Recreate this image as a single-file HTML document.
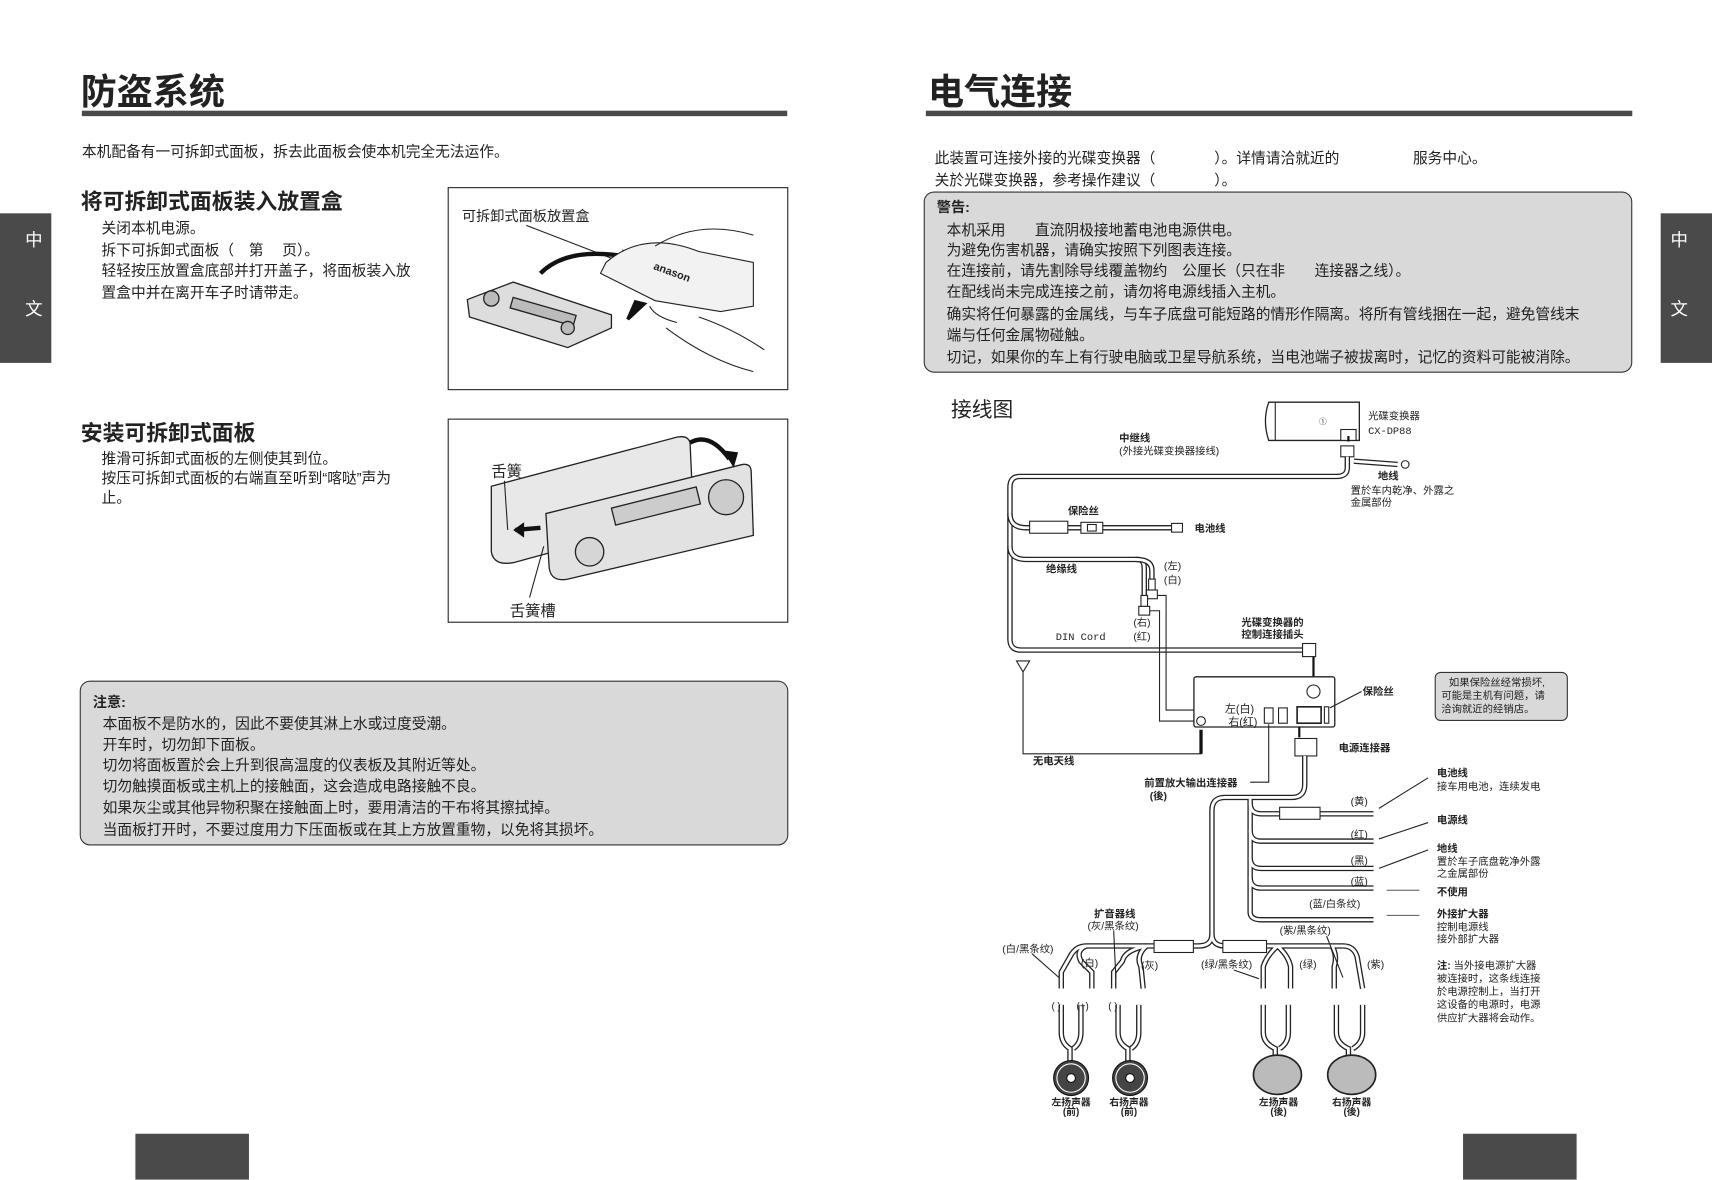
<!DOCTYPE html>
<html><head><meta charset="utf-8"><style>
html,body{margin:0;padding:0;background:#fff}
svg{display:block}
text{font-family:"Liberation Sans","Noto Sans CJK SC",sans-serif;fill:#222}
.b{font-weight:bold}
.w1{fill:none;stroke:#222;stroke-width:5}
.w2{fill:none;stroke:#fff;stroke-width:2.6}
.t{fill:none;stroke:#222;stroke-width:1}
</style></head><body>
<svg width="1712" height="1180" viewBox="0 0 1568 1080" xmlns="http://www.w3.org/2000/svg">
<defs>
<path id="c1" d="M1234 418 L1234 428 Q1234 436 1224 436 L934 436 Q925 436 925 446 L925 585 Q925 595 935 595 L1195 595"/>
<path id="c2" d="M925 470 Q925 483 940 483 L1075 483"/>
<path id="c3" d="M925 500 Q925 512 940 512 L1042 512 Q1048 512 1048 520 L1048 545"/>
<path id="c4" d="M1040 512 Q1055 512 1055 522 L1055 530"/>
<path id="h1" d="M1195 692 L1195 718 Q1195 730 1183 730 L1122 730 Q1110 730 1110 742 L1110 855 Q1110 866 1098 866 L995 866 Q985 866 980 876 L972 890 L972 905"/>
<path id="h2" d="M1110 855 Q1110 866 1122 866 L1230 866 Q1240 866 1243 876 L1248 905"/>
<path id="h3" d="M1145 730 L1145 835 Q1145 842 1155 842 L1258 842"/>
<path id="h4" d="M1145 735 Q1145 745 1155 745 L1258 745"/>
<path id="h5" d="M1145 760 Q1145 770 1155 770 L1258 770"/>
<path id="h6" d="M1145 785 Q1145 795 1155 795 L1258 795"/>
<path id="h7" d="M1145 803 Q1145 813 1155 813 L1258 813"/>
<path id="s1" d="M995 866 Q985 870 990 880 L1000 890 L1000 905"/>
<path id="s2" d="M1050 866 Q1030 870 1028 880 L1020 890 L1020 905 M1050 866 Q1040 875 1045 885 L1047 905"/>
<path id="s3" d="M1170 866 Q1160 875 1157 885 L1157 905 M1170 866 Q1180 875 1182 885 L1182 905"/>
<path id="s4" d="M1220 866 Q1225 875 1222 885 L1222 905"/>
<path id="sp1" d="M972 920 L972 945 Q972 955 980 960 L980 972 M990 920 L990 945 Q990 955 983 960"/>
<path id="sp2" d="M1024 920 L1024 945 Q1024 955 1033 960 L1033 972 M1043 920 L1043 945 Q1043 955 1036 960"/>
<path id="sp3" d="M1157 920 L1157 945 Q1157 955 1168 960 L1168 968 M1180 920 L1180 945 Q1180 955 1172 960"/>
<path id="sp4" d="M1224 920 L1224 945 Q1224 955 1235 960 L1235 968 M1248 920 L1248 945 Q1248 955 1239 960"/>
</defs>
<!-- LEFT PAGE -->
<text x="74" y="95" font-size="33" class="b" fill="#111">防盗系统</text>
<rect x="75" y="101" width="646" height="5" fill="#4a4a4a"/>
<text x="75" y="143" font-size="13.5">本机配备有一可拆卸式面板，拆去此面板会使本机完全无法运作。</text>
<rect x="0" y="195" width="47" height="137" fill="#4a4a4a"/>
<text x="31" y="225" font-size="16" style="fill:#fff" text-anchor="middle">中</text>
<text x="31" y="288" font-size="16" style="fill:#fff" text-anchor="middle">文</text>
<rect x="1521" y="195" width="47" height="137" fill="#4a4a4a"/>
<text x="1538" y="225" font-size="16" style="fill:#fff" text-anchor="middle">中</text>
<text x="1538" y="288" font-size="16" style="fill:#fff" text-anchor="middle">文</text>

<text x="74" y="191" font-size="20" class="b">将可拆卸式面板装入放置盒</text>
<text x="93" y="213" font-size="13.5">关闭本机电源。</text>
<text x="93" y="233" font-size="13.5">拆下可拆卸式面板（　第　 页）。</text>
<text x="93" y="252" font-size="13.5">轻轻按压放置盒底部并打开盖子，将面板装入放</text>
<text x="93" y="272" font-size="13.5">置盒中并在离开车子时请带走。</text>
<rect x="410.5" y="171.5" width="311" height="185" fill="none" stroke="#222"/>
<text x="423" y="202" font-size="13">可拆卸式面板放置盒</text>
<line x1="482" y1="206" x2="570" y2="240" class="t"/>
<g stroke="#222" fill="#ddd" stroke-width="1.2">
<path d="M428 274 L470 258 L560 288 L560 300 L520 318 L430 290 Z"/>
<rect x="470" y="272" width="60" height="10" fill="#bbb" transform="rotate(16 470 272)"/>
<circle cx="450" cy="273" r="7" fill="#bbb"/>
<circle cx="520" cy="300" r="6" fill="#bbb"/>
</g>
<path d="M495 250 Q520 225 575 235" fill="none" stroke="#111" stroke-width="4"/>
<path d="M570 228 L585 236 L570 244 Z" fill="#111"/>
<path d="M575 292 L590 278 L582 276 Z" fill="#111" stroke="#111" stroke-width="3"/>
<path d="M555 240 Q590 210 640 230 L690 240 L690 280 L660 285 L600 275 L550 250 Z" fill="#f2f2f2" stroke="#222"/>
<text x="598" y="246" font-size="10" class="b" transform="rotate(20 598 246)">anason</text>
<path d="M600 225 Q640 200 690 215 M610 300 Q650 330 690 340 M640 290 Q670 300 700 320" fill="none" stroke="#222"/>
<path d="M595 280 Q600 290 620 295" fill="none" stroke="#222"/>

<text x="74" y="403" font-size="20" class="b">安装可拆卸式面板</text>
<text x="93" y="424" font-size="13.5">推滑可拆卸式面板的左侧使其到位。</text>
<text x="93" y="442" font-size="13.5">按压可拆卸式面板的右端直至听到“喀哒”声为</text>
<text x="93" y="460" font-size="13.5">止。</text>
<rect x="410.5" y="383.5" width="311" height="186" fill="none" stroke="#222"/>
<text x="450" y="436" font-size="14">舌簧</text>
<text x="467" y="564" font-size="14">舌簧槽</text>
<g stroke="#222" stroke-width="1.2">
<path d="M450 445 L620 400 Q630 398 632 405 L635 470 L470 515 Q452 518 450 505 Z" fill="#e8e8e8"/>
<path d="M500 470 L680 425 Q688 424 688 432 L690 490 L520 530 Q505 533 503 520 Z" fill="#e2e2e2"/>
<rect x="560" y="465" width="80" height="16" fill="#ccc" transform="rotate(-14 560 465)"/>
<circle cx="665" cy="455" r="16" fill="#ccc"/>
<circle cx="540" cy="505" r="13" fill="#d6d6d6"/>
</g>
<path d="M632 405 Q650 395 668 420" fill="none" stroke="#111" stroke-width="4"/>
<path d="M662 412 L672 428 L676 414 Z" fill="#111"/>
<path d="M495 483 L472 485" stroke="#111" stroke-width="4"/>
<path d="M470 485 L480 478 L480 492 Z" fill="#111"/>
<line x1="462" y1="440" x2="465" y2="485" class="t"/>
<line x1="485" y1="547" x2="498" y2="500" class="t"/>

<rect x="73.5" y="623.5" width="648" height="150" rx="9" fill="#d9d9d9" stroke="#333"/>
<text x="85" y="647" font-size="13" class="b">注意:</text>
<text x="94" y="667" font-size="13.5">本面板不是防水的，因此不要使其淋上水或过度受潮。</text>
<text x="94" y="686" font-size="13.5">开车时，切勿卸下面板。</text>
<text x="94" y="705" font-size="13.5">切勿将面板置於会上升到很高温度的仪表板及其附近等处。</text>
<text x="94" y="724" font-size="13.5">切勿触摸面板或主机上的接触面，这会造成电路接触不良。</text>
<text x="94" y="744" font-size="13.5">如果灰尘或其他异物积聚在接触面上时，要用清洁的干布将其擦拭掉。</text>
<text x="94" y="764" font-size="13.5">当面板打开时，不要过度用力下压面板或在其上方放置重物，以免将其损坏。</text>
<rect x="124" y="1038" width="104" height="42" fill="#4a4a4a"/>
<rect x="1340" y="1038" width="104" height="42" fill="#4a4a4a"/>

<!-- RIGHT PAGE -->
<text x="850" y="95" font-size="33" class="b" fill="#111">电气连接</text>
<rect x="848" y="101" width="647" height="5" fill="#4a4a4a"/>
<text x="856" y="149" font-size="13.5">此装置可连接外接的光碟变换器（　　　　）。详情请洽就近的　　　　　服务中心。</text>
<text x="856" y="169" font-size="13.5">关於光碟变换器，参考操作建议（　　　　）。</text>
<rect x="846.5" y="175.5" width="648" height="165" rx="9" fill="#d9d9d9" stroke="#333"/>
<text x="858" y="194" font-size="13" class="b">警告:</text>
<text x="867" y="215" font-size="13.5">本机采用　　直流阴极接地蓄电池电源供电。</text>
<text x="867" y="233" font-size="13.5">为避免伤害机器，请确实按照下列图表连接。</text>
<text x="867" y="252" font-size="13.5">在连接前，请先割除导线覆盖物约　公厘长（只在非　　连接器之线）。</text>
<text x="867" y="271" font-size="13.5">在配线尚未完成连接之前，请勿将电源线插入主机。</text>
<text x="867" y="292" font-size="13.5">确实将任何暴露的金属线，与车子底盘可能短路的情形作隔离。将所有管线捆在一起，避免管线末</text>
<text x="867" y="311" font-size="13.5">端与任何金属物碰触。</text>
<text x="867" y="331" font-size="13.5">切记，如果你的车上有行驶电脑或卫星导航系统，当电池端子被拔离时，记忆的资料可能被消除。</text>

<text x="871" y="381" font-size="19">接线图</text>

<path d="M1162 368 L1245 368 L1245 403 L1162 403 Q1156 385 1162 368 Z" fill="#fff" stroke="#222" stroke-width="1.2"/>
<line x1="1168" y1="368" x2="1168" y2="403" class="t"/>
<text x="1208" y="388" font-size="7">①</text>
<rect x="1228" y="393" width="14" height="10" fill="#fff" stroke="#222"/>
<path d="M1235 404 L1235 399" stroke="#111" stroke-width="2"/>
<text x="1253" y="384" font-size="9.5">光碟变换器</text>
<text x="1253" y="397" font-size="9.5" style="font-family:'Liberation Mono',monospace">CX-DP88</text>
<rect x="1228" y="408" width="12" height="10" fill="#fff" stroke="#222"/>
<text x="1025" y="404" font-size="9.5" class="b">中继线</text>
<text x="1025" y="416" font-size="9.5">(外接光碟变换器接线)</text>
<path d="M1240 422 L1280 425" class="w1"/><path d="M1240 422 L1280 425" class="w2"/>
<circle cx="1287" cy="425" r="3.5" fill="#fff" stroke="#222"/>
<text x="1262" y="439" font-size="9.5" class="b">地线</text>
<text x="1237" y="452" font-size="9.5">置於车内乾净、外露之</text>
<text x="1237" y="463" font-size="9.5">金属部份</text>

<use href="#c1" class="w1"/><use href="#c1" class="w2"/>
<use href="#c2" class="w1"/><use href="#c2" class="w2"/>
<use href="#c3" class="w1"/><use href="#c3" class="w2"/>
<use href="#c4" class="w1"/><use href="#c4" class="w2"/>
<rect x="943" y="477" width="35" height="11" fill="#fff" stroke="#222"/>
<rect x="990" y="478" width="20" height="10" fill="#fff" stroke="#222"/>
<rect x="996" y="480" width="8" height="6" fill="#fff" stroke="#222"/>
<rect x="1073" y="479" width="10" height="8" fill="#fff" stroke="#222"/>
<text x="978" y="471" font-size="9.5" class="b">保险丝</text>
<text x="1094" y="487" font-size="9.5" class="b">电池线</text>
<text x="958" y="524" font-size="9.5" class="b">绝缘线</text>
<rect x="1052" y="530" width="6" height="10" fill="#fff" stroke="#222"/>
<rect x="1050" y="540" width="10" height="8" fill="#fff" stroke="#222"/>
<rect x="1045" y="545" width="6" height="10" fill="#fff" stroke="#222"/>
<rect x="1043" y="555" width="10" height="8" fill="#fff" stroke="#222"/>
<text x="1066" y="521" font-size="9.5">(左)</text>
<text x="1066" y="534" font-size="9.5">(白)</text>
<text x="1038" y="573" font-size="9.5">(右)</text>
<text x="1038" y="586" font-size="9.5">(红)</text>
<text x="967" y="586" font-size="9.5" style="font-family:'Liberation Mono',monospace">DIN Cord</text>
<path d="M1060 545 L1068 545 L1068 650 L1120 650 M1053 559 L1062 559 L1062 660 L1122 660" class="t"/>
<text x="1137" y="573" font-size="9.5" class="b">光碟变换器的</text>
<text x="1137" y="584" font-size="9.5" class="b">控制连接插头</text>
<rect x="1193" y="589" width="12" height="12" fill="#fff" stroke="#222"/>
<line x1="1203" y1="601" x2="1203" y2="622" stroke="#111" stroke-width="2"/>
<path d="M1199 620 L1207 620 L1203 628 Z" fill="#111"/>

<rect x="1093.5" y="619.5" width="129" height="46" rx="2" fill="#fff" stroke="#222" stroke-width="1.2"/>
<circle cx="1203" cy="633" r="6" fill="#fff" stroke="#222"/>
<text x="1122" y="652" font-size="10">左(白)</text>
<text x="1125" y="664" font-size="10">右(红)</text>
<rect x="1158" y="648" width="8" height="14" fill="#fff" stroke="#222"/>
<rect x="1171" y="648" width="8" height="14" fill="#fff" stroke="#222"/>
<rect x="1188" y="647" width="22" height="15" fill="#fff" stroke="#222" stroke-width="1.5"/>
<rect x="1213" y="647" width="4" height="15" fill="#fff" stroke="#222"/>
<circle cx="1100" cy="660" r="4" fill="#fff" stroke="#222"/>
<line x1="1218" y1="648" x2="1247" y2="633" class="t"/>
<text x="1248" y="636" font-size="9.5" class="b">保险丝</text>
<rect x="1314.5" y="615.5" width="121" height="44" rx="5" fill="#d9d9d9" stroke="#333"/>
<text x="1327" y="628" font-size="9.5">如果保险丝经常损坏,</text>
<text x="1320" y="640" font-size="9.5">可能是主机有问题，请</text>
<text x="1320" y="652" font-size="9.5">洽询就近的经销店。</text>

<path d="M931 605 L943 605 L937 615 Z M937 615 L937 690 L1100 690 L1100 672" class="t"/>
<line x1="1100" y1="668" x2="1100" y2="690" stroke="#111" stroke-width="3"/>
<text x="946" y="700" font-size="9.5" class="b">无电天线</text>
<text x="1048" y="720" font-size="9.5" class="b">前置放大输出连接器</text>
<text x="1053" y="732" font-size="9.5" class="b">(後)</text>
<path d="M1145 716 L1162 716 L1162 663" class="t"/>
<line x1="1190" y1="665" x2="1190" y2="675" stroke="#111" stroke-width="2"/>
<rect x="1186" y="676" width="20" height="16" fill="#fff" stroke="#222"/>
<text x="1226" y="688" font-size="9.5" class="b">电源连接器</text>

<use href="#h1" class="w1"/><use href="#h2" class="w1"/><use href="#h3" class="w1"/><use href="#h4" class="w1"/><use href="#h5" class="w1"/><use href="#h6" class="w1"/><use href="#h7" class="w1"/>
<use href="#s1" class="w1"/><use href="#s2" class="w1"/><use href="#s3" class="w1"/><use href="#s4" class="w1"/>
<use href="#sp1" class="w1"/><use href="#sp2" class="w1"/><use href="#sp3" class="w1"/><use href="#sp4" class="w1"/>
<use href="#h1" class="w2"/><use href="#h2" class="w2"/><use href="#h3" class="w2"/><use href="#h4" class="w2"/><use href="#h5" class="w2"/><use href="#h6" class="w2"/><use href="#h7" class="w2"/>
<use href="#s1" class="w2"/><use href="#s2" class="w2"/><use href="#s3" class="w2"/><use href="#s4" class="w2"/>
<use href="#sp1" class="w2"/><use href="#sp2" class="w2"/><use href="#sp3" class="w2"/><use href="#sp4" class="w2"/>
<rect x="1172" y="739" width="37" height="11" fill="#fff" stroke="#222"/>
<rect x="1057" y="861" width="36" height="11" fill="#fff" stroke="#222"/>
<rect x="1120" y="861" width="40" height="11" fill="#fff" stroke="#222"/>
<text x="1237" y="737" font-size="9.5">(黄)</text>
<text x="1237" y="767" font-size="9.5">(红)</text>
<text x="1237" y="791" font-size="9.5">(黑)</text>
<text x="1237" y="810" font-size="9.5">(蓝)</text>
<text x="1199" y="831" font-size="9.5">(蓝/白条纹)</text>
<path d="M1263 740 L1308 712 M1263 768 L1308 753 M1263 795 L1308 778" class="t"/>
<path d="M1270 815 L1300 815 M1270 838 L1300 838" stroke="#555" stroke-width="1"/>
<text x="1316" y="711" font-size="9.5" class="b">电池线</text>
<text x="1316" y="723" font-size="9.5">接车用电池，连续发电</text>
<text x="1316" y="754" font-size="9.5" class="b">电源线</text>
<text x="1316" y="780" font-size="9.5" class="b">地线</text>
<text x="1316" y="792" font-size="9.5">置於车子底盘乾净外露</text>
<text x="1316" y="803" font-size="9.5">之金属部份</text>
<text x="1316" y="820" font-size="9.5" class="b">不使用</text>
<text x="1316" y="840" font-size="9.5" class="b">外接扩大器</text>
<text x="1316" y="852" font-size="9.5">控制电源线</text>
<text x="1316" y="863" font-size="9.5">接外部扩大器</text>
<text x="1316" y="887" font-size="9.5"><tspan class="b">注:</tspan> 当外接电源扩大器</text>
<text x="1316" y="899" font-size="9.5">被连接时，这条线连接</text>
<text x="1316" y="911" font-size="9.5">於电源控制上，当打开</text>
<text x="1316" y="923" font-size="9.5">这设备的电源时，电源</text>
<text x="1316" y="935" font-size="9.5">供应扩大器将会动作。</text>

<text x="1002" y="840" font-size="9.5" class="b">扩音器线</text>
<text x="996" y="851" font-size="9.5">(灰/黑条纹)</text>
<text x="918" y="872" font-size="9.5">(白/黑条纹)</text>
<text x="990" y="885" font-size="9.5">(白)</text>
<text x="1045" y="887" font-size="9.5">(灰)</text>
<text x="1100" y="886" font-size="9.5">(绿/黑条纹)</text>
<text x="1172" y="855" font-size="9.5">(紫/黑条纹)</text>
<text x="1190" y="886" font-size="9.5">(绿)</text>
<text x="1252" y="886" font-size="9.5">(紫)</text>
<path d="M945 873 L970 895 M1020 852 L1022 895 M1130 888 L1153 896 M1215 857 L1230 895" class="t"/>
<text x="963" y="924" font-size="9">(  )</text>
<text x="986" y="924" font-size="9">(+)</text>
<text x="1015" y="924" font-size="9">(  )</text>

<circle cx="981" cy="987" r="16" fill="#444" stroke="#111"/>
<circle cx="981" cy="987" r="13" fill="none" stroke="#fff" stroke-width="1"/>
<circle cx="981" cy="987" r="4" fill="#fff" stroke="#111"/>
<circle cx="1035" cy="987" r="16" fill="#444" stroke="#111"/>
<circle cx="1035" cy="987" r="13" fill="none" stroke="#fff" stroke-width="1"/>
<circle cx="1035" cy="987" r="4" fill="#fff" stroke="#111"/>
<ellipse cx="1170" cy="984" rx="22" ry="18" fill="#bbb" stroke="#222" stroke-width="1.5"/>
<ellipse cx="1238" cy="984" rx="22" ry="18" fill="#bbb" stroke="#222" stroke-width="1.5"/>
<text x="981" y="1012" font-size="9" class="b" text-anchor="middle">左扬声器</text>
<text x="981" y="1021" font-size="9" class="b" text-anchor="middle">(前)</text>
<text x="1034" y="1012" font-size="9" class="b" text-anchor="middle">右扬声器</text>
<text x="1034" y="1021" font-size="9" class="b" text-anchor="middle">(前)</text>
<text x="1171" y="1012" font-size="9" class="b" text-anchor="middle">左扬声器</text>
<text x="1171" y="1021" font-size="9" class="b" text-anchor="middle">(後)</text>
<text x="1238" y="1012" font-size="9" class="b" text-anchor="middle">右扬声器</text>
<text x="1238" y="1021" font-size="9" class="b" text-anchor="middle">(後)</text>
</svg>
</body></html>
